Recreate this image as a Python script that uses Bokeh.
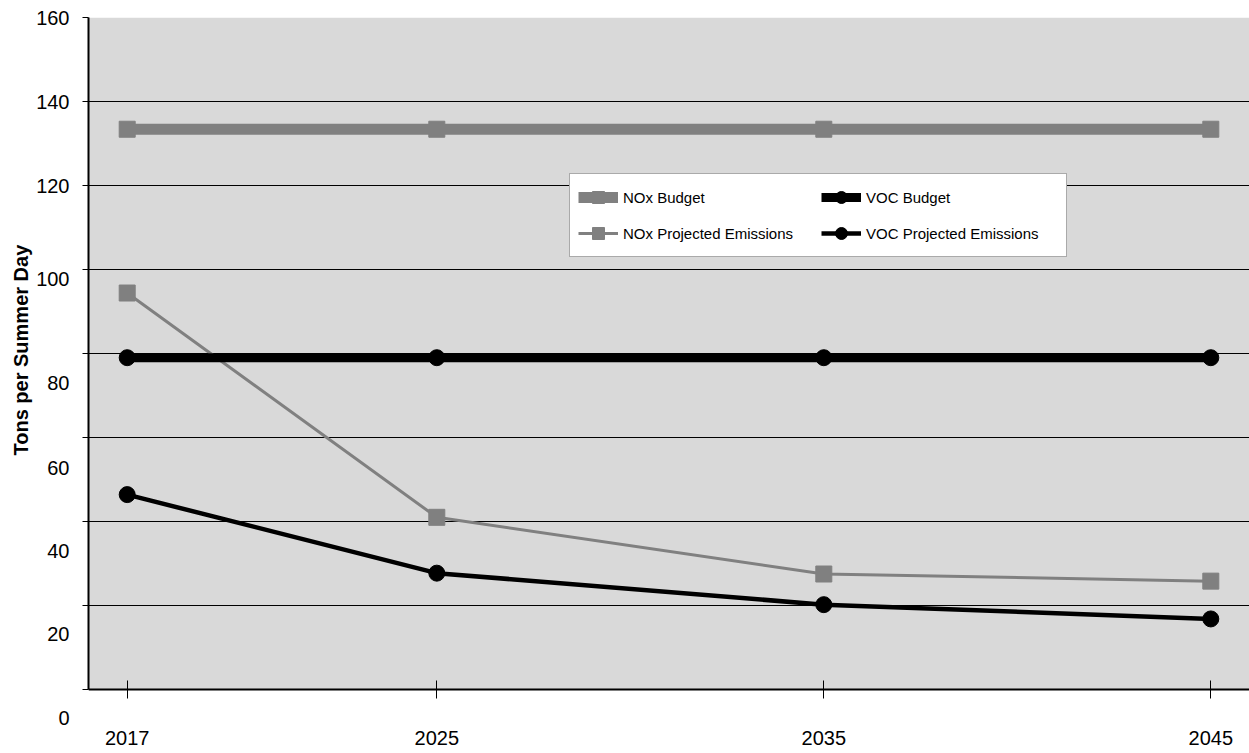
from bokeh.plotting import figure
from bokeh.models import (Range1d, FixedTicker, Legend, LegendItem, LinearAxis,
                          ColumnDataSource, BoxAnnotation, CustomJSTickFormatter,
                          Title)
from bokeh.embed import file_html
from bokeh.resources import INLINE

# ---------------- data ----------------
years = [2017, 2025, 2035, 2045]
nox_budget = [133.4, 133.4, 133.4, 133.4]
voc_budget = [79.0, 79.0, 79.0, 79.0]
nox_projected = [94.4, 41.0, 27.5, 25.8]
voc_projected = [46.4, 27.7, 20.2, 16.8]

y_ticks = [0, 20, 40, 60, 80, 100, 120, 140, 160]
y_tick_labels = ["0", "20", "40", "60", "80", "100", "120", "140", "160"]
y_title = "Tons per Summer Day"

# ---------------- styling ----------------
FONT = "Liberation Sans"
GRAY = "#808080"
BLACK = "#000000"
PLOT_BG = "#d9d9d9"

W, H = 1249, 753
TOP, LEFT = 17, 88            # frame top / left in px
AXIS_Y_PX = 689               # pixel row of the value-0 axis line
Y_MAX = 160
PX_PER_UNIT = (AXIS_Y_PX - TOP) / Y_MAX
Y_MIN = -(H - AXIS_Y_PX) / PX_PER_UNIT   # frame reaches the bottom of the canvas

# vertical pixel shift of each y tick label, as drawn in the original picture
label_shift_px = [-28, -28, -29, -30, -29, -9, 0, 0, 0]
label_pos = [t + s / PX_PER_UNIT for t, s in zip(y_ticks, label_shift_px)]
TITLE_OFFSET_PX = 298          # distance of the title's start from the frame bottom

x_start, x_end = 2016, 2046

p = figure(width=W, height=H, output_backend="svg", toolbar_location=None,
           x_range=Range1d(x_start, x_end), y_range=Range1d(Y_MIN, Y_MAX),
           min_border_left=LEFT, min_border_right=0, min_border_top=TOP,
           min_border_bottom=0, x_axis_location=None, y_axis_location=None)

p.background_fill_color = "white"
p.border_fill_color = "white"
p.outline_line_color = None

# gray plot area (value 0 .. 160)
p.add_layout(BoxAnnotation(bottom=0, top=Y_MAX, fill_color=PLOT_BG,
                           fill_alpha=1.0, line_color=None, level="image"))

# grid
p.xgrid.visible = False
p.ygrid.ticker = FixedTicker(ticks=y_ticks)
p.ygrid.grid_line_color = BLACK
p.ygrid.grid_line_width = 1

# x axis, drawn at value 0
xa = LinearAxis(fixed_location=0)
xa.ticker = FixedTicker(ticks=years)
xa.axis_line_color = BLACK
xa.axis_line_width = 2
xa.major_tick_line_color = BLACK
xa.major_tick_in = 9
xa.major_tick_out = 9
xa.minor_tick_line_color = None
xa.major_label_standoff = 32
xa.major_label_text_font = FONT
xa.major_label_text_font_size = "20px"
xa.major_label_text_color = BLACK
p.add_layout(xa, "below")

# y axis line + tick marks (no labels)
ya = LinearAxis(bounds=(0, Y_MAX))
ya.ticker = FixedTicker(ticks=[], minor_ticks=y_ticks)
ya.axis_line_color = BLACK
ya.axis_line_width = 2
ya.major_tick_line_color = None
ya.major_tick_in = 0
ya.major_tick_out = 0
ya.minor_tick_line_color = BLACK
ya.minor_tick_line_width = 1
ya.minor_tick_in = 0
ya.minor_tick_out = 6
ya.major_label_standoff = 0
p.add_layout(ya, "left")

# y tick labels
yl = LinearAxis()
yl.ticker = FixedTicker(ticks=label_pos)
yl.formatter = CustomJSTickFormatter(args=dict(pos=label_pos, labels=y_tick_labels), code="""
    let best = 0;
    for (let i = 0; i < pos.length; i++) {
        if (Math.abs(pos[i] - tick) < Math.abs(pos[best] - tick)) best = i;
    }
    return labels[best];
""")
yl.axis_line_color = None
yl.major_tick_line_color = None
yl.major_tick_in = 0
yl.major_tick_out = 0
yl.minor_tick_line_color = None
yl.major_label_standoff = 13
yl.major_label_text_font = FONT
yl.major_label_text_font_size = "20px"
yl.major_label_text_color = BLACK
p.add_layout(yl, "left")

# y axis title
p.add_layout(Title(text=y_title, align="left", offset=TITLE_OFFSET_PX,
                   text_font=FONT, text_font_size="20px", text_font_style="bold",
                   text_color=BLACK, standoff=3), "left")

# ---------------- series ----------------
src = ColumnDataSource(dict(x=years, nb=nox_budget, vb=voc_budget,
                            np_=nox_projected, vp=voc_projected))

r1l = p.line("x", "nb", source=src, line_color=GRAY, line_width=11)
r1m = p.scatter("x", "nb", source=src, marker="square", size=16,
                fill_color=GRAY, line_color=GRAY)
r2l = p.line("x", "np_", source=src, line_color=GRAY, line_width=3)
r2m = p.scatter("x", "np_", source=src, marker="square", size=16,
                fill_color=GRAY, line_color=GRAY)
r3l = p.line("x", "vb", source=src, line_color=BLACK, line_width=9)
r3m = p.scatter("x", "vb", source=src, marker="circle", size=16,
                fill_color=BLACK, line_color=BLACK)
r4l = p.line("x", "vp", source=src, line_color=BLACK, line_width=4.5)
r4m = p.scatter("x", "vp", source=src, marker="circle", size=16,
                fill_color=BLACK, line_color=BLACK)

legend = Legend(items=[
    LegendItem(label="NOx Budget", renderers=[r1l, r1m]),
    LegendItem(label="NOx Projected Emissions", renderers=[r2l, r2m]),
    LegendItem(label="VOC Budget", renderers=[r3l, r3m]),
    LegendItem(label="VOC Projected Emissions", renderers=[r4l, r4m]),
], ncols=2, location=(481, 496))
legend.label_text_font = FONT
legend.label_text_font_size = "15px"
legend.label_text_color = BLACK
legend.glyph_width = 40
legend.glyph_height = 30
legend.label_height = 30
legend.label_width = 192
legend.label_standoff = 5
legend.padding = 8
legend.spacing = 6
legend.margin = 0
legend.border_line_color = "#555555"
legend.border_line_width = 1
legend.background_fill_color = "white"
legend.background_fill_alpha = 1.0
p.add_layout(legend, "center")

open("out.html", "w").write(file_html(p, INLINE))
